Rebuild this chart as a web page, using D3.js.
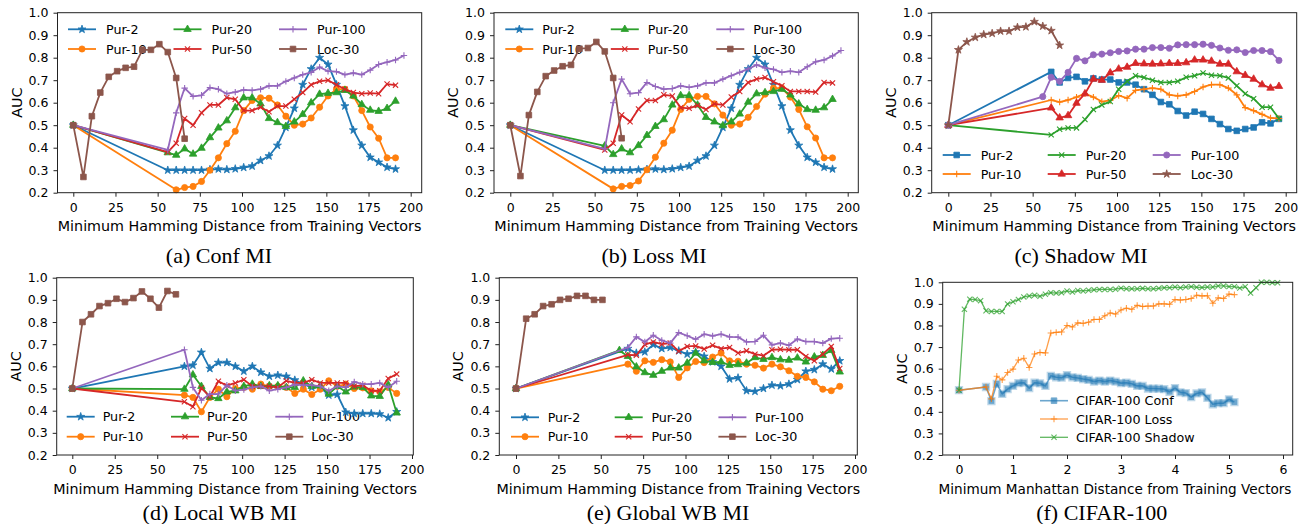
<!DOCTYPE html>
<html>
<head>
<meta charset="utf-8">
<script src="https://cdn.jsdelivr.net/npm/d3@7"></script>
<style>
  body { margin: 0; background: #fff; }
  text { font-family: "DejaVu Sans", sans-serif; }
  text.caption { font-family: "Liberation Serif", "Times New Roman", serif; }
</style>
</head>
<body>
<script>
// ---- data ----
const hamTicks = [0, 25, 50, 75, 100, 125, 150, 175, 200];
const manTicks = [0, 1, 2, 3, 4, 5, 6];
const aucTicks = [0.2, 0.3, 0.4, 0.5, 0.6, 0.7, 0.8, 0.9, 1.0];
const seriesNames = ["Pur-2", "Pur-10", "Pur-20", "Pur-50", "Pur-100", "Loc-30"];
const colors = ["#1f77b4", "#ff7f0e", "#2ca02c", "#d62728", "#9467bd", "#8c564b"];

// first value is at x=0, the rest start at "start" and go up by 5
const confStart = [56, 61, 56, 56, 56, 6];
const confPur2 = [0.5, 0.30, 0.30, 0.30, 0.30, 0.30, 0.303, 0.305, 0.303, 0.306, 0.312, 0.318, 0.343, 0.363, 0.41, 0.49, 0.575, 0.68, 0.75, 0.80, 0.77, 0.68, 0.585, 0.478, 0.41, 0.357, 0.335, 0.313, 0.305];
const confPur10 = [0.5, 0.213, 0.223, 0.228, 0.25, 0.30, 0.355, 0.418, 0.473, 0.565, 0.61, 0.622, 0.62, 0.59, 0.54, 0.50, 0.505, 0.532, 0.58, 0.63, 0.66, 0.66, 0.63, 0.565, 0.492, 0.442, 0.355, 0.355];
const confPur20 = [0.5, 0.378, 0.367, 0.395, 0.372, 0.398, 0.445, 0.488, 0.52, 0.578, 0.622, 0.622, 0.595, 0.53, 0.512, 0.495, 0.515, 0.548, 0.60, 0.638, 0.642, 0.645, 0.655, 0.63, 0.592, 0.567, 0.562, 0.575, 0.607];
const confPur50 = [0.5, 0.38, 0.42, 0.53, 0.50, 0.555, 0.59, 0.59, 0.623, 0.615, 0.565, 0.565, 0.58, 0.56, 0.585, 0.585, 0.615, 0.645, 0.68, 0.695, 0.70, 0.68, 0.66, 0.645, 0.64, 0.643, 0.64, 0.683, 0.678];
const confPur100 = [0.5, 0.39, 0.555, 0.665, 0.628, 0.633, 0.667, 0.66, 0.64, 0.647, 0.657, 0.655, 0.66, 0.675, 0.675, 0.695, 0.71, 0.725, 0.735, 0.758, 0.74, 0.738, 0.725, 0.732, 0.725, 0.745, 0.77, 0.78, 0.79, 0.81];
const confLoc30 = [0.5, 0.27, 0.54, 0.645, 0.715, 0.74, 0.755, 0.76, 0.835, 0.835, 0.86, 0.825, 0.71, 0.44];

const lossStart = [56, 61, 56, 56, 56, 6];
const lossPur2 = [0.5, 0.30, 0.30, 0.30, 0.30, 0.302, 0.304, 0.305, 0.303, 0.306, 0.312, 0.318, 0.343, 0.363, 0.41, 0.49, 0.575, 0.68, 0.75, 0.80, 0.77, 0.68, 0.585, 0.478, 0.41, 0.357, 0.335, 0.313, 0.305];
const lossPur10 = [0.5, 0.217, 0.228, 0.232, 0.252, 0.302, 0.358, 0.42, 0.478, 0.57, 0.615, 0.628, 0.628, 0.595, 0.545, 0.50, 0.505, 0.535, 0.583, 0.638, 0.665, 0.665, 0.625, 0.57, 0.493, 0.443, 0.355, 0.355];
const lossPur20 = [0.5, 0.408, 0.37, 0.395, 0.378, 0.41, 0.455, 0.495, 0.525, 0.59, 0.632, 0.632, 0.59, 0.535, 0.515, 0.498, 0.515, 0.55, 0.603, 0.64, 0.645, 0.65, 0.66, 0.635, 0.595, 0.57, 0.567, 0.578, 0.615];
const lossPur50 = [0.5, 0.39, 0.42, 0.545, 0.515, 0.572, 0.61, 0.61, 0.635, 0.63, 0.578, 0.575, 0.588, 0.57, 0.595, 0.59, 0.625, 0.65, 0.69, 0.705, 0.712, 0.693, 0.675, 0.65, 0.65, 0.65, 0.647, 0.69, 0.688];
const lossPur100 = [0.5, 0.395, 0.60, 0.705, 0.64, 0.645, 0.69, 0.672, 0.66, 0.663, 0.675, 0.668, 0.675, 0.688, 0.688, 0.705, 0.72, 0.735, 0.75, 0.768, 0.755, 0.748, 0.735, 0.74, 0.735, 0.76, 0.782, 0.79, 0.808, 0.832];
const lossLoc30 = [0.5, 0.274, 0.545, 0.648, 0.718, 0.743, 0.762, 0.768, 0.84, 0.843, 0.87, 0.828, 0.71, 0.442];

const shadowStart = [61, 61, 61, 61, 56, 6];
const shadowPur2 = [0.5, 0.737, 0.69, 0.71, 0.715, 0.695, 0.708, 0.703, 0.703, 0.69, 0.69, 0.68, 0.66, 0.635, 0.603, 0.593, 0.563, 0.543, 0.56, 0.55, 0.528, 0.505, 0.483, 0.475, 0.483, 0.49, 0.513, 0.508, 0.528];
const shadowPur10 = [0.5, 0.612, 0.603, 0.612, 0.625, 0.64, 0.625, 0.605, 0.61, 0.632, 0.62, 0.655, 0.66, 0.665, 0.66, 0.635, 0.63, 0.635, 0.65, 0.67, 0.68, 0.68, 0.665, 0.635, 0.578, 0.565, 0.548, 0.532, 0.53];
const shadowPur20 = [0.5, 0.457, 0.482, 0.488, 0.488, 0.525, 0.57, 0.59, 0.605, 0.66, 0.695, 0.72, 0.712, 0.70, 0.69, 0.69, 0.695, 0.713, 0.72, 0.732, 0.722, 0.72, 0.71, 0.675, 0.64, 0.618, 0.58, 0.58, 0.53];
const shadowPur50 = [0.5, 0.577, 0.533, 0.543, 0.598, 0.64, 0.705, 0.70, 0.733, 0.75, 0.758, 0.775, 0.773, 0.772, 0.773, 0.775, 0.775, 0.778, 0.79, 0.79, 0.785, 0.772, 0.772, 0.738, 0.722, 0.705, 0.68, 0.665, 0.673];
const shadowPur100 = [0.5, 0.627, 0.713, 0.695, 0.735, 0.797, 0.786, 0.813, 0.816, 0.822, 0.828, 0.83, 0.838, 0.838, 0.845, 0.845, 0.842, 0.857, 0.858, 0.858, 0.86, 0.855, 0.843, 0.833, 0.835, 0.823, 0.832, 0.832, 0.827, 0.788];
const shadowLoc30 = [0.5, 0.835, 0.87, 0.89, 0.903, 0.908, 0.918, 0.918, 0.935, 0.937, 0.96, 0.94, 0.92, 0.855];

const localStart = [66, 66, 66, 66, 66, 6];
const localPur2 = [0.5, 0.60, 0.605, 0.663, 0.59, 0.617, 0.617, 0.60, 0.578, 0.60, 0.573, 0.555, 0.56, 0.555, 0.538, 0.52, 0.505, 0.505, 0.47, 0.473, 0.393, 0.387, 0.387, 0.387, 0.385, 0.368, 0.395];
const localPur10 = [0.5, 0.47, 0.46, 0.395, 0.46, 0.497, 0.463, 0.50, 0.505, 0.497, 0.52, 0.51, 0.51, 0.505, 0.478, 0.497, 0.473, 0.497, 0.535, 0.51, 0.52, 0.50, 0.503, 0.49, 0.485, 0.505, 0.478];
const localPur20 = [0.5, 0.497, 0.562, 0.51, 0.46, 0.455, 0.485, 0.49, 0.51, 0.52, 0.51, 0.513, 0.513, 0.505, 0.505, 0.535, 0.51, 0.512, 0.475, 0.51, 0.485, 0.507, 0.505, 0.467, 0.465, 0.517, 0.39];
const localPur50 = [0.5, 0.44, 0.418, 0.502, 0.463, 0.533, 0.513, 0.525, 0.54, 0.51, 0.51, 0.51, 0.505, 0.535, 0.525, 0.525, 0.54, 0.525, 0.525, 0.525, 0.525, 0.51, 0.515, 0.49, 0.49, 0.545, 0.565];
const localPur100 = [0.5, 0.675, 0.505, 0.447, 0.475, 0.475, 0.515, 0.49, 0.495, 0.505, 0.51, 0.49, 0.497, 0.505, 0.518, 0.515, 0.515, 0.51, 0.49, 0.51, 0.505, 0.53, 0.52, 0.52, 0.525, 0.505, 0.533];
const localLoc30 = [0.5, 0.80, 0.835, 0.872, 0.885, 0.905, 0.89, 0.908, 0.938, 0.905, 0.865, 0.94, 0.925];

const globalStart = [66, 66, 61, 66, 66, 6];
const globalPur2 = [0.5, 0.68, 0.66, 0.665, 0.698, 0.68, 0.685, 0.67, 0.655, 0.665, 0.645, 0.62, 0.60, 0.543, 0.548, 0.49, 0.487, 0.50, 0.515, 0.512, 0.52, 0.54, 0.578, 0.585, 0.61, 0.588, 0.625];
const globalPur10 = [0.5, 0.61, 0.578, 0.625, 0.618, 0.63, 0.62, 0.55, 0.593, 0.622, 0.617, 0.642, 0.66, 0.625, 0.623, 0.61, 0.605, 0.592, 0.61, 0.598, 0.58, 0.555, 0.55, 0.53, 0.497, 0.49, 0.51];
const globalPur20 = [0.5, 0.672, 0.645, 0.598, 0.572, 0.56, 0.578, 0.593, 0.593, 0.615, 0.66, 0.625, 0.618, 0.62, 0.605, 0.608, 0.615, 0.64, 0.632, 0.64, 0.63, 0.628, 0.638, 0.62, 0.643, 0.65, 0.672, 0.575];
const globalPur50 = [0.5, 0.652, 0.65, 0.698, 0.71, 0.70, 0.705, 0.668, 0.69, 0.692, 0.678, 0.695, 0.68, 0.685, 0.66, 0.67, 0.655, 0.648, 0.675, 0.677, 0.675, 0.675, 0.645, 0.625, 0.655, 0.69, 0.59];
const globalPur100 = [0.5, 0.685, 0.733, 0.71, 0.74, 0.717, 0.705, 0.752, 0.738, 0.722, 0.745, 0.737, 0.745, 0.733, 0.732, 0.71, 0.712, 0.74, 0.697, 0.705, 0.695, 0.723, 0.712, 0.712, 0.705, 0.725, 0.727];
const globalLoc30 = [0.5, 0.815, 0.835, 0.872, 0.88, 0.90, 0.905, 0.918, 0.918, 0.90, 0.90];

// CIFAR-100: first value at 0, then from start in steps of 0.1
const cifarNames = ["CIFAR-100 Conf", "CIFAR-100 Loss", "CIFAR-100 Shadow"];
const cifarStart = [0.5, 0.5, 0.1];
const cifarConf = [0.5, 0.515, 0.45, 0.53, 0.483, 0.505, 0.52, 0.533, 0.535, 0.51, 0.535, 0.532, 0.52, 0.567, 0.56, 0.558, 0.57, 0.56, 0.557, 0.552, 0.548, 0.54, 0.545, 0.54, 0.545, 0.54, 0.533, 0.535, 0.53, 0.52, 0.52, 0.508, 0.508, 0.507, 0.505, 0.493, 0.51, 0.49, 0.487, 0.468, 0.485, 0.49, 0.465, 0.435, 0.44, 0.44, 0.458, 0.445];
const cifarLoss = [0.5, 0.515, 0.46, 0.565, 0.548, 0.582, 0.598, 0.64, 0.648, 0.605, 0.668, 0.675, 0.673, 0.765, 0.768, 0.77, 0.80, 0.793, 0.812, 0.81, 0.815, 0.828, 0.828, 0.845, 0.858, 0.853, 0.872, 0.88, 0.875, 0.893, 0.888, 0.89, 0.89, 0.90, 0.90, 0.898, 0.92, 0.918, 0.92, 0.925, 0.94, 0.937, 0.938, 0.903, 0.928, 0.925, 0.945, 0.943];
const cifarShadow = [0.5, 0.875, 0.922, 0.92, 0.915, 0.868, 0.865, 0.865, 0.865, 0.90, 0.91, 0.92, 0.932, 0.937, 0.94, 0.935, 0.945, 0.952, 0.95, 0.952, 0.96, 0.955, 0.962, 0.96, 0.963, 0.965, 0.967, 0.967, 0.967, 0.968, 0.973, 0.97, 0.97, 0.97, 0.972, 0.97, 0.97, 0.972, 0.975, 0.975, 0.978, 0.975, 0.978, 0.98, 0.977, 0.976, 0.978, 0.978, 0.983, 0.983, 0.98, 0.98, 0.973, 0.98, 0.95, 0.975, 1.0, 1.0, 0.998, 0.998];

// ---- drawing ----
const W = 1299, H = 524;
const svg = d3.select("body").append("svg").attr("width", W).attr("height", H);

function toPoints(vals, start, step) {
  return vals.map((v, i) => ({ x: i === 0 ? 0 : +(start + step * (i - 1)).toFixed(3), y: v }));
}

const markerShapes = {
  star: { d: d3.symbol(d3.symbolStar, 20)(), fill: true },
  circle: { d: d3.symbol(d3.symbolCircle, 30)(), fill: true },
  tri: { d: d3.symbol(d3.symbolTriangle, 24)(), fill: true },
  square: { d: d3.symbol(d3.symbolSquare, 32)(), fill: true },
  x: { d: "M-2.6,-2.6L2.6,2.6M-2.6,2.6L2.6,-2.6", fill: false },
  plus: { d: "M-3.2,0L3.2,0M0,-3.2L0,3.2", fill: false }
};

function drawMarker(sel, kind, color, opacity) {
  const m = markerShapes[kind];
  sel.attr("d", m.d)
    .attr("fill", m.fill ? color : "none")
    .attr("stroke", color)
    .attr("stroke-width", m.fill ? 0.8 : 1.1)
    .attr("opacity", opacity);
}

function drawPanel(p) {
  const g = svg.append("g");
  const x = d3.scaleLinear().domain(p.xd).range(p.xr);
  const y = d3.scaleLinear().domain([0.2, 1.0]).range([p.B, p.T]);

  const xa = g.append("g").attr("transform", "translate(0," + p.B + ")")
    .call(d3.axisBottom(x).tickValues(p.xt).tickSize(4).tickPadding(6).tickFormat(d3.format("d")));
  const ya = g.append("g").attr("transform", "translate(" + p.L + ",0)")
    .call(d3.axisLeft(y).tickValues(aucTicks).tickSize(4).tickPadding(5).tickFormat(d3.format(".1f")));
  [xa, ya].forEach(a => {
    a.select(".domain").remove();
    a.selectAll("line").attr("stroke", "#222");
    a.selectAll("text").attr("font-size", 12.5).attr("fill", "#000")
      .attr("font-family", null);
  });

  g.append("text").attr("x", p.xlabX || (p.L + p.R) / 2).attr("y", p.B + 38.5)
    .attr("text-anchor", "middle").attr("font-size", p.xlabSize || 14.3).text(p.xlabel);
  g.append("text").attr("transform", "translate(" + (p.L - 36) + "," + ((p.T + p.B) / 2) + ") rotate(-90)")
    .attr("text-anchor", "middle").attr("font-size", 14.3).text("AUC");
  g.append("text").attr("class", "caption").attr("x", p.capX).attr("y", p.capY)
    .attr("text-anchor", "middle").attr("font-size", 22).text(p.caption);

  // legend (drawn under the lines, as in the figure)
  const lg = g.append("g");
  p.series.forEach((s, i) => {
    const col = Math.floor(i / p.legRows), row = i % p.legRows;
    const lx = p.legX + col * p.legCol, ly = p.legY + row * p.legRow;
    lg.append("line").attr("x1", lx).attr("x2", lx + 28).attr("y1", ly).attr("y2", ly)
      .attr("stroke", s.color).attr("stroke-width", s.lw).attr("opacity", s.op);
    lg.append("path").attr("transform", "translate(" + (lx + 14) + "," + ly + ")")
      .call(drawMarker, s.marker, s.color, s.op);
    lg.append("text").attr("x", lx + p.legText).attr("y", ly).attr("dy", "0.36em")
      .attr("font-size", 12.7).text(s.name);
  });

  const line = d3.line().x(d => x(d.x)).y(d => y(d.y));
  p.series.forEach(s => {
    const sg = g.append("g");
    sg.append("path").datum(s.points).attr("d", line).attr("fill", "none")
      .attr("stroke", s.color).attr("stroke-width", s.lw).attr("opacity", s.op)
      .attr("stroke-linejoin", "round");
    const mk = sg.selectAll("path.mk").data(s.points).join("path").attr("class", "mk")
      .attr("transform", d => "translate(" + x(d.x) + "," + y(d.y) + ")")
      .call(drawMarker, s.marker, s.color, s.op);
    if (s.halo) mk.attr("stroke-width", 2.6).attr("stroke-opacity", 0.45);
  });

  g.append("rect").attr("x", p.L).attr("y", p.T).attr("width", p.R - p.L).attr("height", p.B - p.T)
    .attr("fill", "none").attr("stroke", "#222").attr("stroke-width", 1);
}

function hamSeries(lists, starts, markers) {
  return lists.map((vals, i) => ({
    name: seriesNames[i], color: colors[i], marker: markers[i], lw: 1.8, op: 1,
    points: toPoints(vals, starts[i], 5)
  }));
}

const mkA = ["star", "circle", "tri", "x", "plus", "square"];
const mkC = ["square", "plus", "x", "tri", "circle", "star"];
const hamLabel = "Minimum Hamming Distance from Training Vectors";

const panels = [
  { L: 57.5, R: 421.7, T: 12.7, B: 192.7, xd: [0, 200], xr: [73.3, 410.7], xt: hamTicks,
    xlabel: hamLabel, caption: "(a) Conf MI", capX: 219, capY: 263,
    legX: 68, legY: 29.3, legRow: 19.7, legCol: 105.5, legText: 38, legRows: 2,
    series: hamSeries([confPur2, confPur10, confPur20, confPur50, confPur100, confLoc30], confStart, mkA) },
  { L: 494, R: 858.3, T: 12.7, B: 192.7, xd: [0, 200], xr: [510.3, 847.7], xt: hamTicks,
    xlabel: hamLabel, caption: "(b) Loss MI", capX: 654, capY: 263,
    legX: 505.3, legY: 29.3, legRow: 19.7, legCol: 105.5, legText: 37, legRows: 2,
    series: hamSeries([lossPur2, lossPur10, lossPur20, lossPur50, lossPur100, lossLoc30], lossStart, mkA) },
  { L: 931.7, R: 1296.7, T: 12.7, B: 192.7, xd: [0, 200], xr: [948.3, 1285.7], xt: hamTicks,
    xlabel: hamLabel, caption: "(c) Shadow MI", capX: 1081, capY: 263,
    legX: 942.7, legY: 155, legRow: 19, legCol: 105, legText: 38, legRows: 2,
    series: hamSeries([shadowPur2, shadowPur10, shadowPur20, shadowPur50, shadowPur100, shadowLoc30], shadowStart, mkC) },
  { L: 56.7, R: 413.3, T: 277.7, B: 455, xd: [0, 200], xr: [72.3, 412], xt: hamTicks,
    xlabel: hamLabel, caption: "(d) Local WB MI", capX: 219.7, capY: 519.5,
    legX: 66.7, legY: 416.7, legRow: 20, legCol: 104.3, legText: 36, legRows: 2,
    series: hamSeries([localPur2, localPur10, localPur20, localPur50, localPur100, localLoc30], localStart, mkA) },
  { L: 499.3, R: 857.3, T: 277.7, B: 455, xd: [0, 200], xr: [516, 855], xt: hamTicks,
    xlabel: hamLabel, caption: "(e) Global WB MI", capX: 668, capY: 519.5,
    legX: 511, legY: 417.3, legRow: 19.4, legCol: 103.7, legText: 36.7, legRows: 2,
    series: hamSeries([globalPur2, globalPur10, globalPur20, globalPur50, globalPur100, globalLoc30], globalStart, mkA) },
  { L: 942.7, R: 1292.7, T: 282.3, B: 455, xd: [0, 6], xr: [959, 1283], xt: manTicks,
    xlabel: "Minimum Manhattan Distance from Training Vectors", xlabX: 1115, xlabSize: 13.6,
    caption: "(f) CIFAR-100", capX: 1101.7, capY: 519.5,
    legX: 1040, legY: 400.7, legRow: 18.3, legCol: 0, legText: 36, legRows: 3,
    series: [
      { name: cifarNames[0], color: colors[0], marker: "square", lw: 1.6, op: 0.65, halo: true, points: toPoints(cifarConf, cifarStart[0], 0.1) },
      { name: cifarNames[1], color: colors[1], marker: "plus", lw: 1.3, op: 0.75, points: toPoints(cifarLoss, cifarStart[1], 0.1) },
      { name: cifarNames[2], color: colors[2], marker: "x", lw: 1.3, op: 0.75, points: toPoints(cifarShadow, cifarStart[2], 0.1) }
    ] }
];

panels.forEach(drawPanel);
</script>
</body>
</html>
